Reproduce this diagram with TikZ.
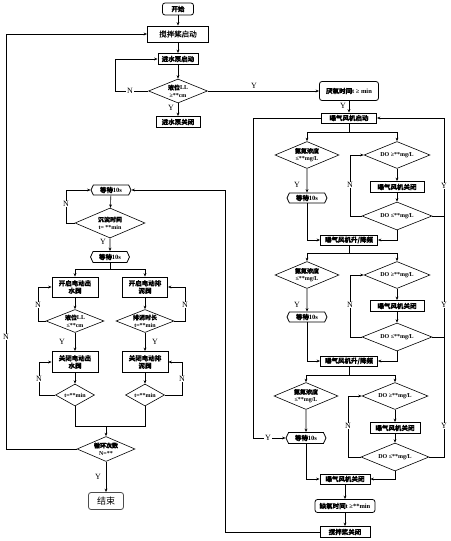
\documentclass[tikz,border=0pt]{standalone}
\usepackage{fontspec}
\setmainfont{Liberation Serif}
\newfontfamily\zh{Noto Sans CJK SC}[FakeBold=0.5]
\newfontfamily\zhr{Noto Sans CJK SC}
\usetikzlibrary{shapes.geometric,shapes.symbols,arrows.meta}
\begin{document}
\begin{tikzpicture}[x=1pt,y=-1pt,line width=0.6pt,
  arr/.style={-{Stealth[length=3.5pt,width=2.8pt]}},
  sz/.style 2 args={minimum width=#1pt,minimum height=#2pt},
  box/.style={draw,fill=white,line width=0.8pt,inner sep=0pt,align=center,
    font=\fontsize{6.5}{7.5}\selectfont\bfseries},
  rbox/.style={box,rounded corners=2.5pt},
  dia/.style={diamond,draw,fill=white,inner sep=0pt,line width=0.6pt},
  dl/.style={align=center,inner sep=0pt,font=\fontsize{6}{7.5}\selectfont\bfseries},
  wt/.style={box,signal,signal to=west and east,signal pointer angle=130},
  lbl/.style={fill=white,inner sep=0.8pt,font=\fontsize{8}{8}\selectfont},
  lbn/.style={inner sep=0.5pt,font=\fontsize{8}{8}\selectfont}]
\useasboundingbox (0,0) rectangle (450,541);

% ---------- top ----------
\node[rbox,sz={31}{12}] (start) at (178,9) {{\zh 开始}};
\node[box,sz={61}{16},font=\fontsize{7.5}{8}\selectfont] (stir) at (178,34) {{\zh 搅拌桨启动}};
\node[box,sz={40}{11}] (pump) at (178,59) {{\zh 进水泵启动}};
\node[dia,sz={59}{24},label={[dl]center:{{\zh 液位}LL\\≥**cm}}] (lvl) at (178,91) {};
\node[box,sz={44}{11}] (pumpoff) at (178,122) {{\zh 进水泵关闭}};

\draw[arr] (start) -- (stir);
\draw[arr] (stir) -- (pump);
\draw[arr] (pump) -- (lvl);
\draw[arr] (lvl) -- (pumpoff);
\draw[arr] (lvl.west) -- (115,91) |- (pump.west);
\node[lbl] at (130,91) {N};
\node[lbn] at (171,108) {Y};

% ---------- right column ----------
\node[rbox,sz={59}{19}] (anaer) at (349,91) {{\zh 厌氧时间}t ≥ min};
\node[box,sz={55}{10}] (aer) at (349,118) {{\zh 曝气风机启动}};
\draw[arr] (lvl.east) -- (anaer.west);
\node[lbn] at (254,86) {Y};
\draw[arr] (anaer) -- (aer);
\node[lbn] at (343,106) {Y};

\coordinate (br1) at (349,132);
\coordinate (br2) at (349,253);
\coordinate (br3) at (349,375);

% group 1
\node[dia,sz={64}{27},label={[dl]center:{{\zh 氨氮浓度}\\≤**mg/L}}] (amm1) at (307,155) {};
\node[dia,sz={66}{27},label={[dl]center:{DO ≥**mg/L}}] (doA1) at (397,155) {};
\node[box,sz={54}{11}] (off1) at (397,187) {{\zh 曝气风机关闭}};
\node[dia,sz={70}{28},label={[dl]center:{DO ≤**mg/L}}] (doB1) at (397,216) {};
\node[wt,sz={40}{10}] (wait1) at (307,198) {{\zh 等待}10s};
\node[box,sz={57}{10}] (freq1) at (349,240) {{\zh 曝气风机升/降频}};

% group 2
\node[dia,sz={64}{27},label={[dl]center:{{\zh 氨氮浓度}\\≤**mg/L}}] (amm2) at (307,275) {};
\node[dia,sz={66}{27},label={[dl]center:{DO ≥**mg/L}}] (doA2) at (397,275) {};
\node[box,sz={54}{11}] (off2) at (397,306) {{\zh 曝气风机关闭}};
\node[dia,sz={70}{28},label={[dl]center:{DO ≤**mg/L}}] (doB2) at (397,337) {};
\node[wt,sz={40}{10}] (wait2) at (307,317) {{\zh 等待}10s};
\node[box,sz={57}{10}] (freq2) at (349,361) {{\zh 曝气风机升/降频}};

% group 3
\node[dia,sz={64}{27},label={[dl]center:{{\zh 氨氮浓度}\\≤**mg/L}}] (amm3) at (306,396) {};
\node[dia,sz={66}{27},label={[dl]center:{DO ≥**mg/L}}] (doA3) at (395,396) {};
\node[box,sz={50}{11}] (off3) at (395,428) {{\zh 曝气风机关闭}};
\node[dia,sz={68}{28},label={[dl]center:{DO ≤**mg/L}}] (doB3) at (395,457) {};
\node[wt,sz={40}{11}] (wait3) at (306,438) {{\zh 等待}10s};

\node[box,sz={50}{10}] (aeroff) at (345,479) {{\zh 曝气风机关闭}};
\node[rbox,sz={60}{13}] (anox) at (345,506) {{\zh 缺氧时间}t ≥**min};
\node[box,sz={50}{11}] (stiroff) at (345,532) {{\zh 搅拌桨关闭}};

% group 1 connectors
\draw (aer) -- (br1);
\draw[arr] (br1) -| (amm1.north);
\draw[arr] (br1) -| (doA1.north);
\draw[arr] (amm1) -- (wait1);
\node[lbn] at (297,185) {Y};
\draw[arr] (doA1) -- (off1);
\draw[arr] (off1) -- (doB1);
\draw[arr] (doB1.west) -- (350,216) |- (doA1.west);
\node[lbl] at (350,185) {N};
\draw (doB1.east) -- (444,216);
\draw[arr] (wait1.south) |- (freq1.west);
\draw[arr] (doB1.south) |- (freq1.east);

% group 2 connectors
\draw (freq1) -- (br2);
\draw[arr] (br2) -| (amm2.north);
\draw[arr] (br2) -| (doA2.north);
\draw[arr] (amm2) -- (wait2);
\node[lbn] at (297,305) {Y};
\draw[arr] (doA2) -- (off2);
\draw[arr] (off2) -- (doB2);
\draw[arr] (doB2.west) -- (350,337) |- (doA2.west);
\node[lbl] at (350,305) {N};
\draw (doB2.east) -- (444,337);
\draw[arr] (wait2.south) |- (freq2.west);
\draw[arr] (doB2.south) |- (freq2.east);

% group 3 connectors
\draw (freq2) -- (br3);
\draw[arr] (br3) -| (amm3.north);
\draw[arr] (br3) -| (doA3.north);
\draw[arr] (amm3) -- (wait3);
\draw[arr] (doA3) -- (off3);
\draw[arr] (off3) -- (doB3);
\draw[arr] (doB3.west) -- (348,457) |- (doA3.west);
\node[lbl] at (348,426) {N};
\draw[arr] (doB3.east) -- (444,457) |- (aer.east);
\node[lbl] at (444,186) {Y};
\node[lbl] at (444,305) {Y};
\node[lbl] at (444,426) {Y};
\draw[arr] (aer.west) -- (253,118) |- (wait3.west);
\node[lbl] at (268,438) {Y};
\draw[arr] (wait3.south) |- (aeroff.west);
\draw[arr] (doB3.south) |- (aeroff.east);
\draw[arr] (aeroff) -- (anox);
\draw[arr] (anox) -- (stiroff);

% ---------- left column ----------
\node[wt,sz={40}{10}] (waitT) at (111,190) {{\zh 等待}10s};
\node[dia,sz={70}{30},label={[dl]center:{{\zh 沉淀时间}\\t= **min}}] (settle) at (110,223) {};
\node[wt,sz={39}{11}] (waitM) at (110,257) {{\zh 等待}10s};
\coordinate (brL) at (110,269);
\node[box,sz={46}{20}] (openOut) at (75,287) {{\zh 开启电动出}\\{\zh 水阀}};
\node[box,sz={45}{20}] (openMud) at (145,287) {{\zh 开启电动排}\\{\zh 泥阀}};
\node[dia,sz={58}{23},label={[dl]center:{{\zh 液位}LL\\≤**cm}}] (lvl2) at (75,321) {};
\node[dia,sz={58}{23},label={[dl]center:{{\zh 排泥时长}\\t=**min}}] (mud) at (145,321) {};
\node[box,sz={46}{21}] (closeOut) at (75,362) {{\zh 关闭电动出}\\{\zh 水阀}};
\node[box,sz={46}{21}] (closeMud) at (145,362) {{\zh 关闭电动排}\\{\zh 泥阀}};
\node[dia,sz={39}{22},label={[dl]center:{t=**min}}] (t1) at (75,395) {};
\node[dia,sz={39}{22},label={[dl]center:{t=**min}}] (t2) at (145,395) {};
\coordinate (mrg) at (106,426);
\node[dia,sz={58}{25},label={[dl]center:{{\zh 循环次数}\\N=**}}] (cycle) at (106,449) {};
\node[rbox,sz={35}{17},draw=black!70,font=\fontsize{9}{9}\selectfont] (end) at (106,501) {{\zhr 结束}};

\draw[arr] (stiroff.west) -- (225,532) |- (waitT.east);
\draw[arr] (waitT) -- (settle);
\draw[arr] (settle.west) -- (66,223) |- (waitT.west);
\node[lbl] at (66,204) {N};
\draw[arr] (settle) -- (waitM);
\node[lbn] at (103,242) {Y};
\draw (waitM) -- (brL);
\draw[arr] (brL) -| (openOut.north);
\draw[arr] (brL) -| (openMud.north);
\draw[arr] (openOut) -- (lvl2);
\draw[arr] (openMud) -- (mud);
\draw[arr] (lvl2.west) -- (38,321) |- (openOut.west);
\node[lbl] at (38,305) {N};
\draw[arr] (mud.east) -- (185,321) |- (openMud.east);
\node[lbl] at (185,305) {N};
\draw[arr] (lvl2) -- (closeOut);
\node[lbn] at (62,342) {Y};
\draw[arr] (mud) -- (closeMud);
\node[lbn] at (155,342) {Y};
\draw[arr] (closeOut) -- (t1);
\draw[arr] (closeMud) -- (t2);
\draw[arr] (t1.west) -- (39,395) |- (closeOut.west);
\node[lbl] at (39,379) {N};
\draw[arr] (t2.east) -- (182,395) |- (closeMud.east);
\node[lbl] at (182,379) {N};
\draw (t1.south) |- (mrg);
\draw (t2.south) |- (mrg);
\draw[arr] (mrg) -- (cycle.north);
\draw[arr] (cycle) -- (end);
\node[lbn] at (98,477) {Y};
\draw[arr] (cycle.west) -- (6,449) |- (stir.west);
\node[lbl] at (6,337) {N};
\end{tikzpicture}
\end{document}
